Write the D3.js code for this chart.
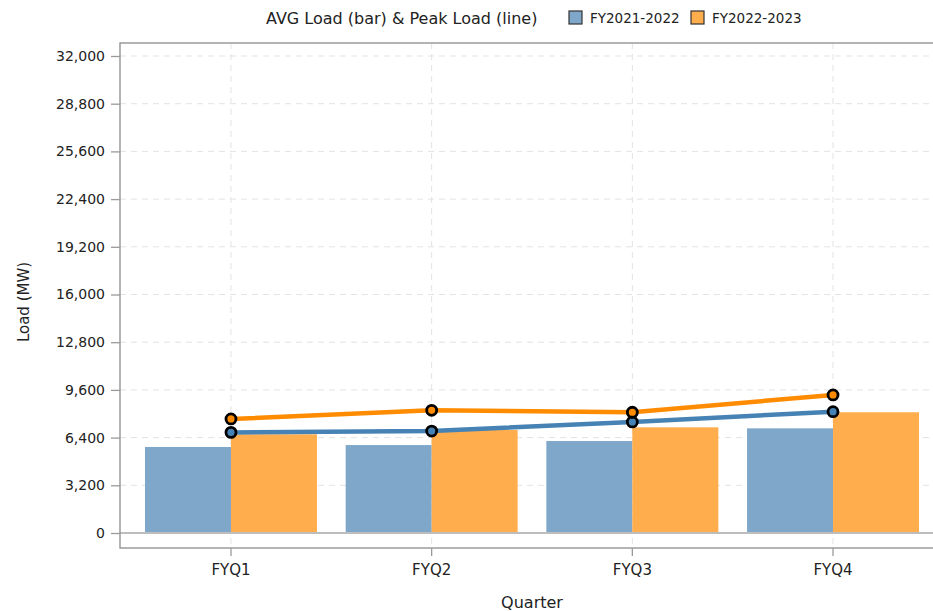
<!DOCTYPE html>
<html>
<head>
<meta charset="utf-8">
<script src="https://cdn.jsdelivr.net/npm/d3@7"></script>
<style>
  body { margin: 0; background: #fff; }
  text { font-family: "DejaVu Sans", sans-serif; fill: #222; }
</style>
</head>
<body>
<div id="chart"></div>
<script>
// data
var quarters = ["FYQ1", "FYQ2", "FYQ3", "FYQ4"];
var seriesNames = ["FY2021-2022", "FY2022-2023"];
var avgLoad2122 = [5770, 5900, 6170, 7020];
var avgLoad2223 = [6620, 6910, 7090, 8100];
var peakLoad2122 = [6750, 6840, 7450, 8140];
var peakLoad2223 = [7650, 8230, 8100, 9260];
var yTicks = [0, 3200, 6400, 9600, 12800, 16000, 19200, 22400, 25600, 28800, 32000];

var W = 933, H = 611;
var plotLeft = 120, plotRight = 944, plotTop = 43, plotBottom = 548;

var lineColor = ["#4682b4", "#ff8c00"];
var barColor = ["#7fa7ca", "#ffad4d"];

var svg = d3.select("#chart").append("svg")
    .attr("width", W)
    .attr("height", H);

var x = d3.scaleBand().domain(quarters).range([plotLeft, plotRight])
    .paddingInner(0.143).paddingOuter(0.1245);
var xs = d3.scaleBand().domain(seriesNames).range([0, x.bandwidth()]);
var y = d3.scaleLinear().domain([0, 32000]).range([533, 56]);

// grid
svg.append("g").selectAll("line").data(yTicks).enter().append("line")
    .attr("x1", plotLeft).attr("x2", plotRight)
    .attr("y1", d => y(d)).attr("y2", d => y(d))
    .attr("stroke", "#e3e3e3").attr("stroke-dasharray", "6,5");
svg.append("g").selectAll("line").data(quarters).enter().append("line")
    .attr("x1", d => x(d) + x.bandwidth() / 2).attr("x2", d => x(d) + x.bandwidth() / 2)
    .attr("y1", plotTop).attr("y2", plotBottom)
    .attr("stroke", "#e3e3e3").attr("stroke-dasharray", "6,5");

// bars
var groups = [
  {name: seriesNames[0], avg: avgLoad2122, peak: peakLoad2122, i: 0},
  {name: seriesNames[1], avg: avgLoad2223, peak: peakLoad2223, i: 1}
];
groups.forEach(function(s) {
  svg.append("g").selectAll("rect").data(quarters).enter().append("rect")
      .attr("x", (q) => x(q) + xs(s.name))
      .attr("y", (q, j) => y(s.avg[j]))
      .attr("width", xs.bandwidth())
      .attr("height", (q, j) => y(0) - y(s.avg[j]))
      .attr("fill", barColor[s.i]);
});

// zero line
svg.append("line")
    .attr("x1", plotLeft).attr("x2", plotRight)
    .attr("y1", y(0)).attr("y2", y(0))
    .attr("stroke", "#bdbdbd").attr("stroke-width", 2);

// frame
svg.append("rect")
    .attr("x", plotLeft).attr("y", plotTop)
    .attr("width", plotRight - plotLeft).attr("height", plotBottom - plotTop)
    .attr("fill", "none").attr("stroke", "#8c8c8c").attr("stroke-width", 1.3);

// peak lines
var cx = q => x(q) + x.bandwidth() / 2;
groups.forEach(function(s) {
  var line = d3.line().x((v, j) => cx(quarters[j])).y(v => y(v));
  svg.append("path").datum(s.peak)
      .attr("d", line)
      .attr("fill", "none")
      .attr("stroke", lineColor[s.i])
      .attr("stroke-width", 4.5);
});
groups.forEach(function(s) {
  svg.append("g").selectAll("circle").data(s.peak).enter().append("circle")
      .attr("cx", (v, j) => cx(quarters[j]))
      .attr("cy", v => y(v))
      .attr("r", 5)
      .attr("fill", lineColor[s.i])
      .attr("stroke", "#000")
      .attr("stroke-width", 2.8);
});

// axes
var yAxis = svg.append("g")
    .attr("transform", "translate(" + plotLeft + ",0)")
    .call(d3.axisLeft(y).tickValues(yTicks).tickSize(9).tickPadding(6).tickFormat(d3.format(",")));
var xAxis = svg.append("g")
    .attr("transform", "translate(0," + plotBottom + ")")
    .call(d3.axisBottom(x).tickSize(8).tickPadding(8));
[yAxis, xAxis].forEach(function(a) {
  a.select(".domain").remove();
  a.selectAll(".tick line").attr("stroke", "#9a9a9a").attr("stroke-width", 1.3);
  a.selectAll(".tick text").style("font-family", "DejaVu Sans").attr("fill", "#222");
});
yAxis.selectAll(".tick text").style("font-size", "14px");
xAxis.selectAll(".tick text").style("font-size", "15px");

// axis titles
svg.append("text")
    .attr("transform", "translate(29,302) rotate(-90)")
    .attr("text-anchor", "middle")
    .style("font-size", "15px")
    .text("Load (MW)");
svg.append("text")
    .attr("x", 532).attr("y", 608)
    .attr("text-anchor", "middle")
    .style("font-size", "16px")
    .text("Quarter");

// legend / title
svg.append("text")
    .attr("x", 266).attr("y", 24)
    .style("font-size", "16px")
    .text("AVG Load (bar) & Peak Load (line)");
var legX = [569, 691];
seriesNames.forEach(function(n, i) {
  svg.append("rect")
      .attr("x", legX[i]).attr("y", 11)
      .attr("width", 13).attr("height", 13)
      .attr("fill", barColor[i])
      .attr("stroke", "#333").attr("stroke-width", 1.2);
  svg.append("text")
      .attr("x", legX[i] + 21).attr("y", 23)
      .style("font-size", "13.5px")
      .text(n);
});
</script>
</body>
</html>
